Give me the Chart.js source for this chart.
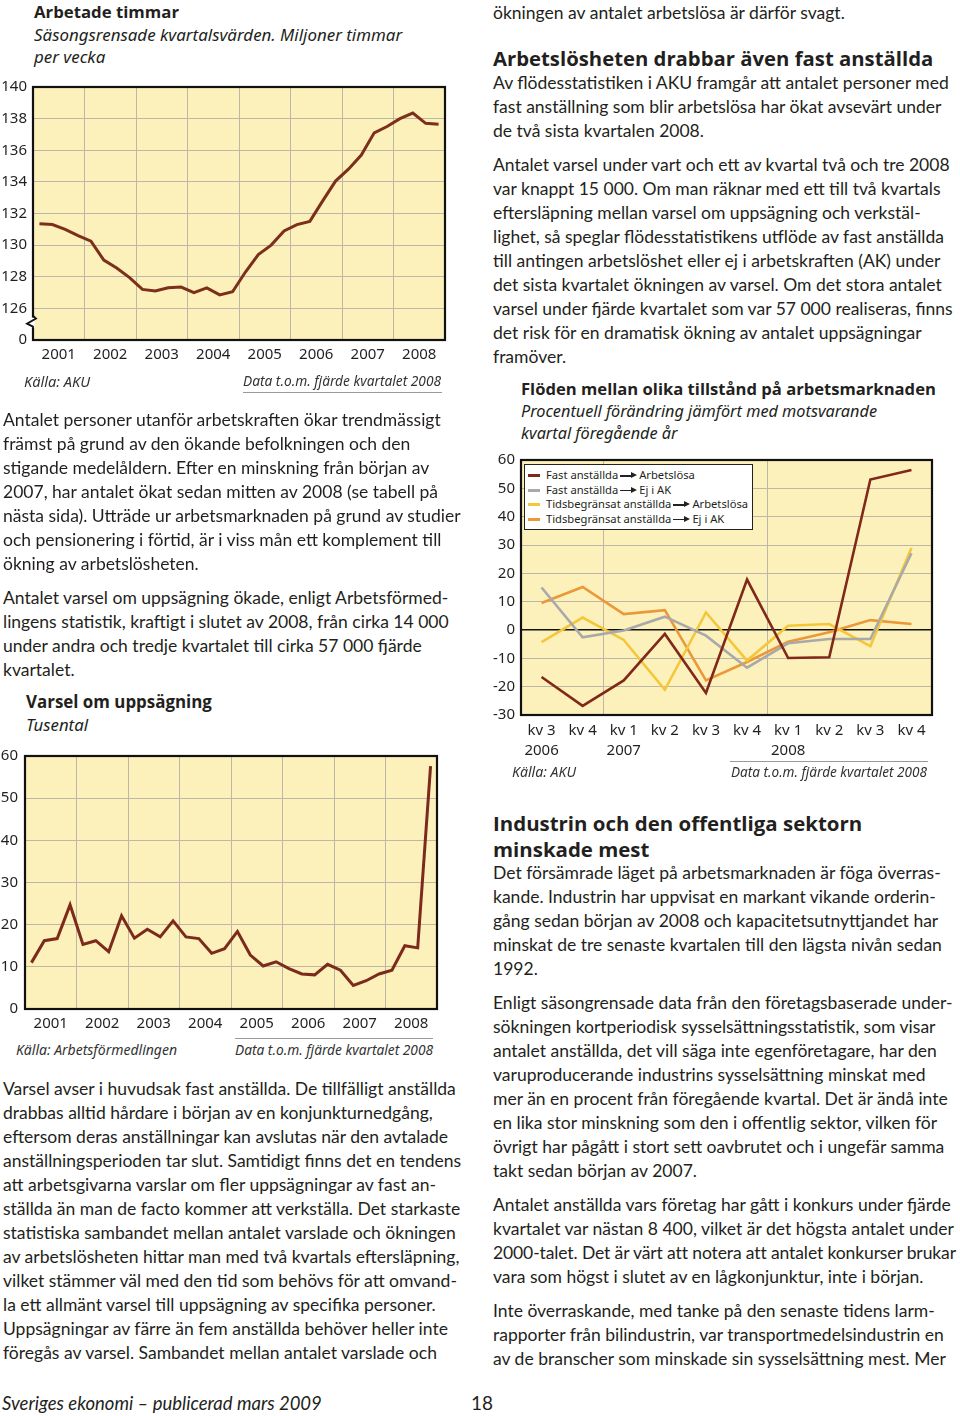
<!DOCTYPE html>
<html><head><meta charset="utf-8">
<script src="https://cdn.jsdelivr.net/npm/chart.js@4.4.1/dist/chart.umd.min.js"></script>
<style>
html,body{margin:0;padding:0;background:#fff;}
body{width:960px;height:1416px;position:relative;overflow:hidden;color:#231f20;font-family:Lato,"Noto Sans",sans-serif;}
.a{position:absolute;white-space:nowrap;}
.body{font-size:18px;line-height:24px;}
.h{font-family:"Open Sans","Noto Sans",sans-serif;font-weight:700;}
.t{font-family:"Noto Sans","Open Sans",sans-serif;}
.it{font-style:italic;}
.src{font-family:"Noto Sans",sans-serif;font-style:italic;font-size:15px;line-height:20px;color:#333;}
.rule{position:absolute;height:1px;background:#9a9a9a;}
canvas{position:absolute;}
#legend{position:absolute;left:524px;top:464px;width:229px;height:66px;background:#fff;border:1.5px solid #222;box-sizing:border-box;font-family:"Noto Sans",sans-serif;font-size:11.2px;line-height:14.6px;padding-top:3px;}
#legend .row{position:relative;height:14.6px;white-space:nowrap;padding-left:21px;}
#legend .sw{position:absolute;left:3px;top:6px;width:12px;height:3px;}
.arr{display:inline-block;position:relative;width:12px;height:1.4px;background:#222;vertical-align:middle;margin:0 7px 0 2px;}
.arr:after{content:"";position:absolute;right:-5px;top:-3px;border-left:6px solid #222;border-top:3.7px solid transparent;border-bottom:3.7px solid transparent;}
.tight{letter-spacing:-0.12px;}
</style></head>
<body>

<!-- Chart 1 titles -->
<div class="a h" style="left:34px;top:1px;font-size:19px;line-height:22px;" data-w="145">Arbetade timmar</div>
<div class="a t it" style="left:34px;top:24px;font-size:17px;line-height:22px;"><span data-w="368" class="fitline">Säsongsrensade kvartalsvärden. Miljoner timmar</span><br>per vecka</div>
<canvas id="c1" width="452" height="300" style="left:0;top:72px;"></canvas>
<div class="a src" style="left:24px;top:371px;" data-w="66">Källa: AKU</div>
<div class="a src" style="left:243px;top:371px;" data-w="198">Data t.o.m. fjärde kvartalet 2008</div>
<div class="rule" style="left:243px;top:392px;width:199px;"></div>

<!-- Left text block 1 -->
<div class="a body" style="left:3px;top:408px;">Antalet personer utanför arbetskraften ökar trendmässigt<br>främst på grund av den ökande befolkningen och den<br>stigande medelåldern. Efter en minskning från början av<br>2007, har antalet ökat sedan mitten av 2008 (se tabell på<br><span class="ref" data-w="460">nästa sida). Utträde ur arbetsmarknaden på grund av studier</span><br><span class="ref" data-w="444">och pensionering i förtid, är i viss mån ett komplement till</span><br>ökning av arbetslösheten.</div>
<div class="a body" style="left:3px;top:586px;">Antalet varsel om uppsägning ökade, enligt Arbetsförmed-<br>lingens statistik, kraftigt i slutet av 2008, från cirka 14 000<br>under andra och tredje kvartalet till cirka 57 000 fjärde<br>kvartalet.</div>

<!-- Chart 2 -->
<div class="a h" style="left:26px;top:691px;font-size:19px;line-height:22px;" data-w="186">Varsel om uppsägning</div>
<div class="a t it" style="left:26px;top:714px;font-size:17px;line-height:22px;" data-w="62">Tusental</div>
<canvas id="c2" width="445" height="297" style="left:0;top:740px;"></canvas>
<div class="rule" style="left:235px;top:1038px;width:198px;"></div>
<div class="a src" style="left:16px;top:1040px;" data-w="161">Källa: Arbetsförmedlingen</div>
<div class="a src" style="left:235px;top:1040px;" data-w="198">Data t.o.m. fjärde kvartalet 2008</div>

<!-- Left text block 3 -->
<div class="a body" style="left:3px;top:1077px;"><span class="ref" data-w="459">Varsel avser i huvudsak fast anställda. De tillfälligt anställda</span><br>drabbas alltid hårdare i början av en konjunkturnedgång,<br>eftersom deras anställningar kan avslutas när den avtalade<br>anställningsperioden tar slut. Samtidigt finns det en tendens<br>att arbetsgivarna varslar om fler uppsägningar av fast an-<br>ställda än man de facto kommer att verkställa. Det starkaste<br><span class="ref" data-w="454">statistiska sambandet mellan antalet varslade och ökningen</span><br>av arbetslösheten hittar man med två kvartals eftersläpning,<br>vilket stämmer väl med den tid som behövs för att omvand-<br>la ett allmänt varsel till uppsägning av specifika personer.<br>Uppsägningar av färre än fem anställda behöver heller inte<br>föregås av varsel. Sambandet mellan antalet varslade och</div>

<div class="a it" style="left:2px;top:1391px;font-size:19px;line-height:24px;" data-w="320">Sveriges ekonomi – publicerad mars 2009</div>
<div class="a" style="left:471px;top:1391px;font-size:19px;line-height:24px;" data-w="22">18</div>

<!-- Right column -->
<div class="a body" style="left:493px;top:1px;">ökningen av antalet arbetslösa är därför svagt.</div>
<div class="a h" style="left:493px;top:44px;font-size:22px;line-height:28px;" data-w="440">Arbetslösheten drabbar även fast anställda</div>
<div class="a body" style="left:493px;top:71px;">Av flödesstatistiken i AKU framgår att antalet personer med<br>fast anställning som blir arbetslösa har ökat avsevärt under<br>de två sista kvartalen 2008.</div>
<div class="a body" style="left:493px;top:153px;"><span class="ref" data-w="454">Antalet varsel under vart och ett av kvartal två och tre 2008</span><br>var knappt 15 000. Om man räknar med ett till två kvartals<br>eftersläpning mellan varsel om uppsägning och verkstäl-<br>lighet, så speglar flödesstatistikens utflöde av fast anställda<br>till antingen arbetslöshet eller ej i arbetskraften (AK) under<br>det sista kvartalet ökningen av varsel. Om det stora antalet<br><span class="ref" data-w="461">varsel under fjärde kvartalet som var 57 000 realiseras, finns</span><br>det risk för en dramatisk ökning av antalet uppsägningar<br>framöver.</div>

<!-- Chart 3 -->
<div class="a h" style="left:521px;top:378px;font-size:18px;line-height:22px;" data-w="415">Flöden mellan olika tillstånd på arbetsmarknaden</div>
<div class="a t it" style="left:521px;top:400px;font-size:16px;line-height:22px;"><span class="fitline" data-w="356">Procentuell förändring jämfört med motsvarande</span><br>kvartal föregående år</div>
<canvas id="c3" width="450" height="320" style="left:490px;top:445px;"></canvas>
<div id="legend">
  <div class="row"><span class="sw" style="background:#80281a"></span>Fast anställda<span class="arr"></span>Arbetslösa</div>
  <div class="row"><span class="sw" style="background:#a9a9a9"></span>Fast anställda<span class="arr"></span>Ej i AK</div>
  <div class="row"><span class="sw" style="background:#f4c73a"></span>Tidsbegränsat anställda<span class="arr"></span>Arbetslösa</div>
  <div class="row"><span class="sw" style="background:#eb983a"></span>Tidsbegränsat anställda<span class="arr"></span>Ej i AK</div>
</div>
<div class="rule" style="left:730px;top:761px;width:198px;"></div>
<div class="a src" style="left:512px;top:762px;" data-w="64">Källa: AKU</div>
<div class="a src" style="left:731px;top:762px;" data-w="196">Data t.o.m. fjärde kvartalet 2008</div>

<div class="a h" style="left:493px;top:810px;font-size:22px;line-height:26px;"><span class="fitline" data-w="369">Industrin och den offentliga sektorn</span><br>minskade mest</div>
<div class="a body" style="left:493px;top:861px;">Det försämrade läget på arbetsmarknaden är föga överras-<br>kande. Industrin har uppvisat en markant vikande orderin-<br>gång sedan början av 2008 och kapacitetsutnyttjandet har<br>minskat de tre senaste kvartalen till den lägsta nivån sedan<br>1992.</div>
<div class="a body" style="left:493px;top:991px;">Enligt säsongrensade data från den företagsbaserade under-<br>sökningen kortperiodisk sysselsättningsstatistik, som visar<br>antalet anställda, det vill säga inte egenföretagare, har den<br>varuproducerande industrins sysselsättning minskat med<br>mer än en procent från föregående kvartal. Det är ändå inte<br>en lika stor minskning som den i offentlig sektor, vilken för<br>övrigt har pågått i stort sett oavbrutet och i ungefär samma<br>takt sedan början av 2007.</div>
<div class="a body" style="left:493px;top:1193px;">Antalet anställda vars företag har gått i konkurs under fjärde<br>kvartalet var nästan 8 400, vilket är det högsta antalet under<br><span class="tight">2000-talet. Det är värt att notera att antalet konkurser brukar</span><br>vara som högst i slutet av en lågkonjunktur, inte i början.</div>
<div class="a body" style="left:493px;top:1299px;">Inte överraskande, med tanke på den senaste tidens larm-<br>rapporter från bilindustrin, var transportmedelsindustrin en<br>av de branscher som minskade sin sysselsättning mest. Mer</div>

<script>
// ---------- DATA ----------
const years = ['2001','2002','2003','2004','2005','2006','2007','2008'];
const hoursValues = [131.35,131.3,131.0,130.6,130.25,129.05,128.55,127.95,
                     127.2,127.1,127.3,127.35,127.0,127.3,126.85,127.05,
                     128.3,129.4,130.0,130.9,131.3,131.5,132.8,134.05,
                     134.8,135.7,137.1,137.5,138.0,138.35,137.7,137.65];
const hoursTicks = [124,126,128,130,132,134,136,138,140];
const hoursTickLabels = ['0','126','128','130','132','134','136','138','140'];

const varselValues = [11.0,16.2,16.7,24.7,15.3,16.2,13.6,22.1,
                      16.8,18.9,17.1,20.9,17.1,16.7,13.2,14.3,
                      18.4,12.8,10.2,11.2,9.6,8.3,8.1,10.6,
                      9.2,5.6,6.7,8.3,9.2,15.0,14.5,57.6];
const varselTicks = [0,10,20,30,40,50,60];

const flowQuarters = ['kv 3','kv 4','kv 1','kv 2','kv 3','kv 4','kv 1','kv 2','kv 3','kv 4'];
const flowYears    = ['2006','','2007','','','','2008','','',''];
const fastArbetslosa = [-16.6,-26.8,-17.8,-1.4,-22.2,17.8,-9.9,-9.6,53.1,56.5];
const fastEjAK       = [15.0,-2.6,-0.2,4.7,-2.0,-13.3,-4.7,-3.2,-3.2,27.1];
const tidsArbetslosa = [-4.3,4.4,-3.5,-21.1,6.2,-10.8,1.5,2.1,-5.7,28.9];
const tidsEjAK       = [9.5,15.2,5.6,7.0,-17.8,-11.3,-4.1,-0.8,3.5,2.1];
const flowTicks = [-30,-20,-10,0,10,20,30,40,50,60];

// ---------- TEXT FITTING ----------
function fitEl(el){
  const w = parseFloat(el.dataset.w);
  const fs = parseFloat(getComputedStyle(el).fontSize);
  const cur = el.getBoundingClientRect().width;
  if (cur > 0) el.style.fontSize = (fs * w / cur) + 'px';
}
function fitAll(){
  document.querySelectorAll('div.a[data-w]').forEach(fitEl);
  document.querySelectorAll('span.fitline').forEach(sp=>{
    const par = sp.parentElement;
    const fs = parseFloat(getComputedStyle(par).fontSize);
    const cur = sp.getBoundingClientRect().width;
    if (cur>0) par.style.fontSize = (fs * parseFloat(sp.dataset.w) / cur) + 'px';
  });
  const refs = document.querySelectorAll('span.ref');
  let sum = 0, n = 0;
  refs.forEach(sp=>{ const cur = sp.getBoundingClientRect().width; if(cur>0){ sum += parseFloat(sp.dataset.w)/cur; n++; } });
  if (n){
    const base = parseFloat(getComputedStyle(document.querySelector('.body')).fontSize);
    const fs = base * sum / n * 0.995;
    document.querySelectorAll('.body').forEach(b=> b.style.fontSize = fs + 'px');
  }
}
fitAll();

// ---------- CHARTS ----------
Chart.defaults.font.family = "'Noto Sans','Open Sans',sans-serif";
Chart.defaults.font.size = 15;
Chart.defaults.color = '#231f20';
Chart.defaults.animation = false;

const GRID = '#bdb7a8';
const BG = '#fdf1bb';
const DARK = '#80281a';

const framePlugin = {
  id: 'frame',
  beforeDraw(chart){
    const a = chart.chartArea, c = chart.ctx;
    c.save(); c.fillStyle = BG; c.fillRect(a.left, a.top, a.right-a.left, a.bottom-a.top); c.restore();
  },
  afterDraw(chart, args, opts){
    const a = chart.chartArea, c = chart.ctx;
    c.save();
    c.strokeStyle = '#111'; c.lineWidth = 2.2;
    c.strokeRect(a.left, a.top, a.right-a.left, a.bottom-a.top);
    if (opts.zigzag){
      const y0 = chart.scales.y.getPixelForValue(125.1);
      const x = a.left;
      c.fillStyle = '#fff';
      c.fillRect(x-2, y0-5, 4, 10);
      c.beginPath();
      c.moveTo(x, y0-7);
      c.lineTo(x+3, y0-4);
      c.lineTo(x-6, y0+1);
      c.lineTo(x, y0+4);
      c.lineTo(x, y0+8);
      c.lineWidth = 1.8;
      c.stroke();
    }
    c.restore();
  }
};

function yearXAxis(h){
  return {
    type:'linear', min:0, max:32,
    afterBuildTicks(s){ const t=[]; for(let v=0; v<=32; v+=2) t.push({value:v}); s.ticks=t; },
    afterFit(s){ s.height = h; },
    grid:{ color: c => (c.tick && c.tick.value % 4 === 0) ? GRID : 'rgba(0,0,0,0)', drawTicks:false },
    border:{display:false},
    ticks:{ autoSkip:false, maxRotation:0, padding:6, callback: v => (v % 4 === 2) ? years[(v-2)/4] : '' }
  };
}
function qPoints(vals){ return vals.map((v,i)=>({x:i+0.5, y:v})); }

const commonPlugins = { legend:{display:false}, tooltip:{enabled:false} };

new Chart(document.getElementById('c1'), {
  type:'line',
  data:{ datasets:[{ data: qPoints(hoursValues), borderColor:'#7c2f1b', borderWidth:3, pointRadius:0, tension:0 }] },
  options:{
    responsive:false,
    layout:{ padding:{ top:11, right:7, bottom:0, left:0 } },
    plugins:{ ...commonPlugins, frame:{ zigzag:true } },
    scales:{
      x: yearXAxis(32),
      y: { type:'linear', min:124, max:140,
           afterBuildTicks(s){ s.ticks = hoursTicks.map(v=>({value:v})); },
           afterFit(s){ s.width = 33; },
           grid:{ color:GRID, drawTicks:false }, border:{display:false},
           ticks:{ padding:6, callback: v => hoursTickLabels[hoursTicks.indexOf(v)] } }
    }
  },
  plugins:[framePlugin]
});

new Chart(document.getElementById('c2'), {
  type:'line',
  data:{ datasets:[{ data: qPoints(varselValues), borderColor:'#7c2a1c', borderWidth:3, pointRadius:0, tension:0 }] },
  options:{
    responsive:false,
    layout:{ padding:{ top:12, right:8, bottom:0, left:0 } },
    plugins:{ ...commonPlugins, frame:{} },
    scales:{
      x: yearXAxis(28),
      y: { type:'linear', min:0, max:60,
           afterBuildTicks(s){ s.ticks = varselTicks.map(v=>({value:v})); },
           afterFit(s){ s.width = 25; },
           grid:{ color:GRID, drawTicks:false }, border:{display:false},
           ticks:{ padding:7 } }
    }
  },
  plugins:[framePlugin]
});

const flowLabels = flowQuarters.map((q,i)=>[q, flowYears[i]]);
function ds(data, color){ return { data, borderColor:color, borderWidth:2.6, pointRadius:0, tension:0 }; }
new Chart(document.getElementById('c3'), {
  type:'line',
  data:{ labels: flowLabels, datasets:[
    ds(fastArbetslosa, DARK),
    ds(fastEjAK, '#a9a9a9'),
    ds(tidsArbetslosa, '#f4c73a'),
    ds(tidsEjAK, '#eb983a')
  ]},
  options:{
    responsive:false,
    layout:{ padding:{ top:13, right:8, bottom:0, left:0 } },
    plugins:{ ...commonPlugins, frame:{} },
    scales:{
      x: { type:'category', offset:true,
           afterFit(s){ s.height = 50; },
           grid:{ offset:true, drawTicks:false, color: c => (c.index===2 || c.index===6) ? GRID : 'rgba(0,0,0,0)' },
           border:{display:false},
           ticks:{ autoSkip:false, maxRotation:0, padding:6, font:{ size:15, lineHeight:1.33 } } },
      y: { type:'linear', min:-30, max:60,
           afterBuildTicks(s){ s.ticks = flowTicks.map(v=>({value:v})); },
           afterFit(s){ s.width = 31; },
           grid:{ drawTicks:false, color: c => (c.tick && c.tick.value===0) ? '#111' : GRID,
                  lineWidth: c => (c.tick && c.tick.value===0) ? 1.6 : 1 },
           border:{display:false},
           ticks:{ padding:6 } }
    }
  },
  plugins:[framePlugin]
});

if (document.fonts && document.fonts.ready) document.fonts.ready.then(fitAll);
</script>
</body></html>
